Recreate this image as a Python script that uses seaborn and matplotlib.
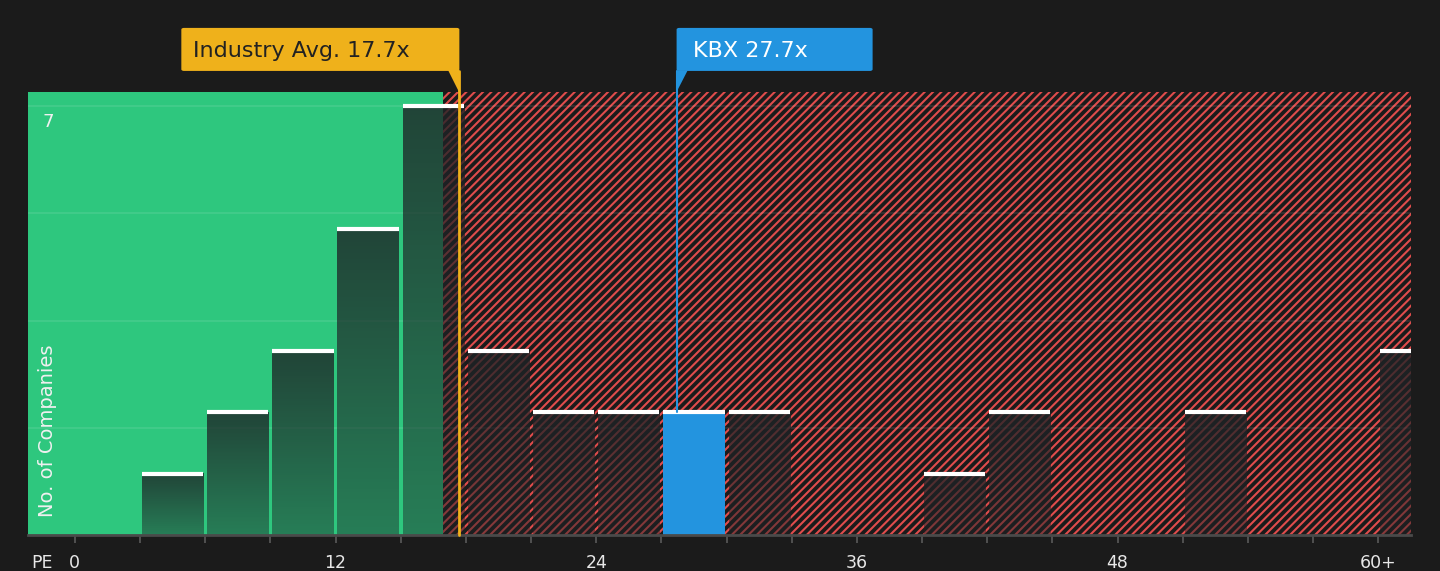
import matplotlib
matplotlib.use("Agg")
import matplotlib.pyplot as plt
from matplotlib.patches import FancyBboxPatch, Polygon
import matplotlib.transforms as mtransforms
import numpy as np
import seaborn as sns

# PE histogram: bins of 3x, last bin is "60+"
bin_edges = [0, 3, 6, 9, 12, 15, 18, 21, 24, 27, 30, 33, 36, 39, 42, 45, 48, 51, 54, 57, 60, 63]
bin_counts = [0, 1, 2, 3, 5, 7, 3, 2, 2, 2, 2, 0, 0, 1, 2, 0, 0, 2, 0, 0, 3]
tick_values = [0, 12, 24, 36, 48, 60]
tick_labels = ["0", "12", "24", "36", "48", "60+"]
industry_avg = 17.7
company_pe = 27.7
company_name = "KBX"
fair_cutoff = 16.95

BG = "#1b1b1b"
GREEN = "#2ec77e"
RED = "#e04c4c"
BLUE = "#2394df"
ORANGE = "#efb11b"

sns.set_theme(style="dark")
plt.rcParams["font.family"] = ["DejaVu Sans"]
plt.rcParams["hatch.linewidth"] = 1.5

fig, ax = plt.subplots(figsize=(14.4, 5.71), dpi=100)
fig.patch.set_facecolor(BG)
ax.set_facecolor(BG)
fig.subplots_adjust(left=0.0194, right=0.9799, bottom=0.063, top=0.839)

xlim = (-2.16, 61.51)
ylim = (0, 7.23)

# background zones
ax.axvspan(xlim[0], fair_cutoff, color=GREEN, lw=0, zorder=0)
ax.axvspan(fair_cutoff, xlim[1], facecolor=BG, edgecolor=RED, hatch="////", lw=0, zorder=0)

# grid
for g in [1.75, 3.5, 5.25, 7]:
    ax.axhline(g, color="white", alpha=0.1, lw=1.2, zorder=1)

n_before = len(ax.patches)
centers = [(a + b) / 2 for a, b in zip(bin_edges[:-1], bin_edges[1:])]
sns.histplot(x=centers, weights=bin_counts, bins=bin_edges, shrink=0.94,
             stat="count", ax=ax, zorder=2)
bars = list(ax.patches)[n_before:]

# restyle bars: gradient shade, company bin in blue, white cap on top
grad = np.zeros((256, 1, 4))
grad[..., 0] = 0.12
grad[..., 1] = 0.14
grad[..., 2] = 0.15
grad[:, 0, 3] = np.linspace(0.8, 0.45, 256)
for p in bars:
    h = p.get_height()
    x0 = p.get_x()
    x1 = x0 + p.get_width()
    p.set_edgecolor("none")
    if h <= 0:
        p.set_visible(False)
        continue
    if x0 <= company_pe < x1 + 0.2:
        p.set_facecolor(BLUE)
        p.set_alpha(1)
    else:
        p.set_facecolor("none")
        ax.imshow(grad, extent=[x0, x1, 0, h], aspect="auto", zorder=2,
                  interpolation="bilinear")
    ax.plot([x0, x1], [h, h], color="white", lw=3, solid_capstyle="butt", zorder=4)

# axes styling
for s in ["top", "right", "left"]:
    ax.spines[s].set_visible(False)
ax.spines["bottom"].set_color("#4a4a4a")
ax.spines["bottom"].set_linewidth(2)
ax.spines["bottom"].set_zorder(5)
ax.set_xticks(tick_values)
ax.set_xticklabels(tick_labels)
ax.set_xticks([e for e in bin_edges if e <= xlim[1]], minor=True)
ax.tick_params(axis="x", which="both", bottom=True, length=6, width=1.2,
               color="#5a5a5a", labelcolor="#e8e8e8", labelsize=12.5, pad=8)
ax.set_yticks([])
ax.set_xlabel("")
ax.set_ylabel("")
ax.grid(False)

fig.text(42 / 1440, 1 - 563 / 571, "PE", ha="center", va="center",
         color="#e8e8e8", fontsize=12.5)
ax.text(0.0145, 6.89, "7", transform=mtransforms.blended_transform_factory(ax.transAxes, ax.transData),
        ha="center", va="top", color="#f0f0f0", fontsize=13)
ax.text(0.0145, 0.04, "No. of Companies", transform=ax.transAxes, rotation=90,
        ha="center", va="bottom", color="#f0f0f0", fontsize=14)

# reference lines and callouts
trans = mtransforms.blended_transform_factory(ax.transData, ax.transAxes)
dpp = (xlim[1] - xlim[0]) / 1383.0
box_lo, box_hi = 1.0474, 1.1445
text_y = 1.092

ax.axvline(industry_avg, ymin=0, ymax=box_lo, color=ORANGE, lw=2, clip_on=False, zorder=6)
ax.axvline(company_pe, ymin=2 / ylim[1], ymax=box_lo, color=BLUE, lw=1.5, clip_on=False, zorder=6)

ind_w = 278 * dpp
ax.add_patch(FancyBboxPatch((industry_avg - ind_w, box_lo), ind_w, box_hi - box_lo,
                            boxstyle="round,pad=0,rounding_size=0.12", mutation_aspect=0.03,
                            transform=trans, facecolor=ORANGE, edgecolor="none", clip_on=False, zorder=7))
ax.add_patch(Polygon([(industry_avg - 11 * dpp, box_lo + 0.001), (industry_avg, box_lo + 0.001), (industry_avg, 1.0)],
                     closed=True, transform=trans, facecolor=ORANGE, edgecolor="none", clip_on=False, zorder=7))
ax.text(industry_avg - ind_w + 12 * dpp, text_y, f"Industry Avg. {industry_avg}x",
        transform=trans, ha="left", va="center", color="#222222", fontsize=16, zorder=8)

kbx_w = 196 * dpp
ax.add_patch(FancyBboxPatch((company_pe, box_lo), kbx_w, box_hi - box_lo,
                            boxstyle="round,pad=0,rounding_size=0.12", mutation_aspect=0.03,
                            transform=trans, facecolor=BLUE, edgecolor="none", clip_on=False, zorder=7))
ax.add_patch(Polygon([(company_pe, box_lo + 0.001), (company_pe + 11 * dpp, box_lo + 0.001), (company_pe, 1.0)],
                     closed=True, transform=trans, facecolor=BLUE, edgecolor="none", clip_on=False, zorder=7))
ax.text(company_pe + 16 * dpp, text_y, f"{company_name} {company_pe}x",
        transform=trans, ha="left", va="center", color="white", fontsize=16, zorder=8)

ax.set_xlim(*xlim)
ax.set_ylim(*ylim)
fig.savefig("out.png", dpi=100, facecolor=BG)
